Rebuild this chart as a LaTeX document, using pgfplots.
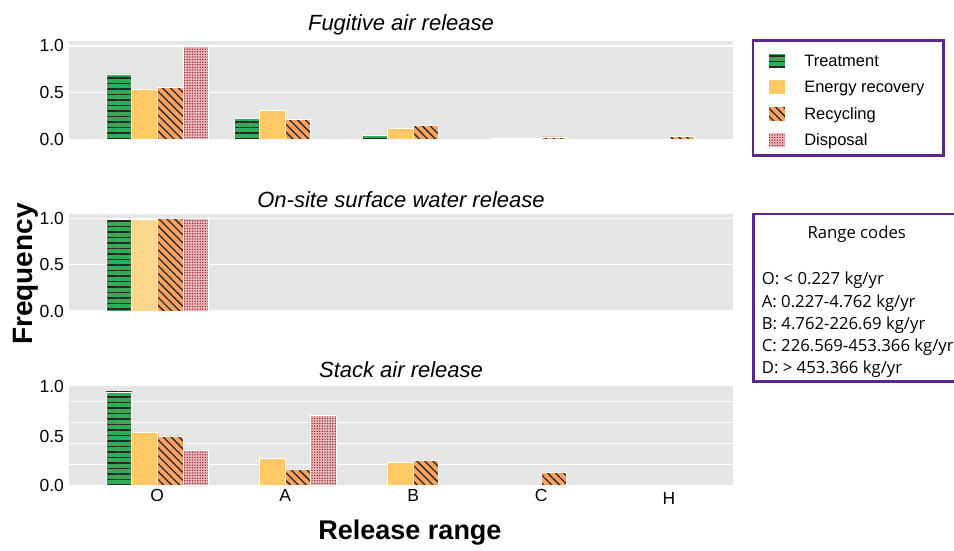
\documentclass[border=0pt]{standalone}
\usepackage{pgfplots}
\pgfplotsset{compat=1.18}
\usetikzlibrary{patterns.meta}
\usepackage{fontspec}
\setmainfont{Liberation Sans}
\newfontfamily\osans{Open Sans}

\definecolor{bggray}{RGB}{229,229,229}
\definecolor{treatc}{RGB}{52,170,86}
\definecolor{treatl}{RGB}{140,212,162}
\definecolor{energc}{RGB}{254,201,102}
\definecolor{energl}{RGB}{250,214,142}
\definecolor{recyc}{RGB}{250,162,98}
\definecolor{dispc}{RGB}{236,186,186}
\definecolor{dispdot}{RGB}{140,30,42}
\definecolor{purp}{RGB}{88,40,138}

\pgfplotsset{
  panel/.style={
    scale only axis, width=664pt,
    xmin=-0.69, xmax=4.5, ymin=0,
    axis background/.style={fill=bggray},
    axis line style={draw=none},
    tick style={draw=none},
    ytick={0,0.5,1},
    xtick={0,1,2,3,4},
    ymajorgrids, major grid style={white, line width=1.1pt},
    /pgf/number format/assume math mode=true,
    yticklabel style={/pgf/number format/fixed,/pgf/number format/fixed zerofill,/pgf/number format/precision=1, xshift=-1.5pt},
    ticklabel style={font=\fontsize{17.5}{20}\selectfont},
    title style={font=\fontsize{22}{26}\selectfont\itshape, at={(0.5,1)}, anchor=base},
    anchor=south west,
  },
  mylegend/.style={legend image code/.code={\draw[##1] (0pt,-7.5pt) rectangle (17pt,7.5pt); \pgfpathmoveto{\pgfqpoint{36pt}{0pt}}\pgfusepath{discard}}},
  bbase/.style={ybar, bar width=0.2, draw=white, line width=0.7pt, mylegend},
  treat/.style={bbase, bar shift=-0.3, fill=treatc, postaction={pattern={Lines[angle=0,distance=5.5pt,line width=1.3pt]}, pattern color=black!85}},
  treatlight/.style={bbase, bar shift=-0.3, fill=treatl},
  energ/.style={bbase, bar shift=-0.1, fill=energc},
  energlight/.style={bbase, bar shift=-0.1, fill=energl},
  recy/.style={bbase, bar shift=0.1, fill=recyc, postaction={pattern={Lines[angle=-45,distance=5.6pt,line width=1.3pt]}, pattern color=black!85}},
  disp/.style={bbase, bar shift=0.3, fill=dispc, postaction={pattern={Dots[distance=2.6pt,radius=0.75pt]}, pattern color=dispdot}},
}

\begin{document}
\begin{tikzpicture}
\useasboundingbox (0pt,0pt) rectangle (954pt,551pt);

% Top panel: Fugitive air release
\begin{axis}[panel, at={(69pt,411.7pt)}, height=98pt, ymax=1.05,
  xticklabels={},
  title={Fugitive air release}, title style={yshift=5pt},
  legend cell align=left,
  legend style={draw=none, fill=none, inner sep=0pt, at={(1.0523,0.8857)}, anchor=north west,
    font=\fontsize{16.5}{19}\selectfont, row sep=10.8pt,
    nodes={inner sep=0pt, text height=13.4pt, text depth=1.6pt}},
]
\addplot[treat] coordinates {(0,0.70) (1,0.225) (2,0.045) (3,0.008)};
\addlegendentry{Treatment}
\addplot[energ] coordinates {(0,0.54) (1,0.31) (2,0.12) (3,0.012)};
\addlegendentry{Energy recovery}
\addplot[recy] coordinates {(0,0.56) (1,0.21) (2,0.15) (3,0.025) (4,0.028)};
\addlegendentry{Recycling}
\addplot[disp] coordinates {(0,1.0)};
\addlegendentry{Disposal}
\end{axis}

% Middle panel: On-site surface water release
\begin{axis}[panel, at={(69pt,240pt)}, height=97pt, ymax=1.05,
  xticklabels={},
  title={On-site surface water release}, title style={yshift=0pt},
]
\addplot[treat] coordinates {(0,0.99)};
\addplot[treatlight] coordinates {(1,0.012)};
\addplot[energlight] coordinates {(0,0.995)};
\addplot[recy] coordinates {(0,1.0)};
\addplot[disp] coordinates {(0,1.0)};
\end{axis}

% Bottom panel: Stack air release
\begin{axis}[panel, at={(69pt,66pt)}, height=99pt, ymax=1.01,
  ymajorgrids=false,
  extra y ticks={0.211,0.425,0.64,0.85}, extra y tick labels={},
  extra y tick style={grid=major, major grid style={white, line width=1.1pt}},
  xticklabels={O,A,B,C,{\raisebox{-2.5pt}[\height][0pt]{H}}},
  xticklabel style={yshift=-1pt},
  title={Stack air release}, title style={yshift=2pt},
]
\addplot[treat] coordinates {(0,0.95)};
\addplot[energ] coordinates {(0,0.54) (1,0.275) (2,0.23)};
\addplot[recy] coordinates {(0,0.50) (1,0.156) (2,0.255) (3,0.13)};
\addplot[disp] coordinates {(0,0.357) (1,0.714)};
\end{axis}

% Legend border
\draw[purp, line width=2.4pt] (752.7pt,510.3pt) rectangle (943.3pt,395.3pt);

% Range codes box
\draw[purp, line width=2.4pt] (753.3pt,337pt) rectangle (962pt,169.3pt);
\begin{scope}[every node/.style={font=\osans\fontsize{16.7}{19}\selectfont, inner sep=0pt}]
\node[anchor=base] at (856.7pt,312pt) {Range codes};
\node[anchor=base west] at (761.7pt,266pt) {O: < 0.227 kg/yr};
\node[anchor=base west] at (761.7pt,243.8pt) {A: 0.227-4.762 kg/yr};
\node[anchor=base west] at (761.7pt,221.5pt) {B: 4.762-226.69 kg/yr};
\node[anchor=base west] at (761.7pt,199.3pt) {C: 226.569-453.366 kg/yr};
\node[anchor=base west] at (761.7pt,177pt) {D: > 453.366 kg/yr};
\end{scope}

% Axis labels
\node[rotate=90, font=\fontsize{28}{32}\selectfont\bfseries, inner sep=0pt] at (26pt,277pt) {Frequency};
\node[anchor=base, font=\fontsize{27}{31}\selectfont\bfseries, inner sep=0pt] at (410pt,11pt) {Release range};
\end{tikzpicture}
\end{document}
